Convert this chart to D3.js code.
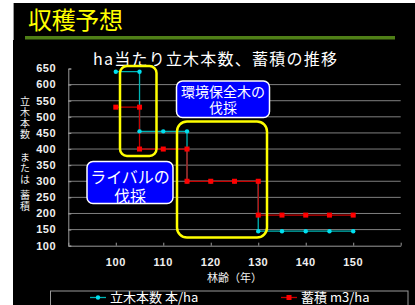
<!DOCTYPE html>
<html>
<head>
<meta charset="utf-8">
<script src="https://cdn.jsdelivr.net/npm/d3@7"></script>
<style>
    body { margin: 0; background: #ffffff; }
    text { font-family: "Noto Sans CJK JP", "Liberation Sans", sans-serif; }
</style>
</head>
<body>
<script>
// Data
// =================================
var ages = [100, 105, 105, 110, 115, 115, 120, 125, 130, 130, 135, 140, 145, 150];
var treeCount = [640, 640, 455, 455, 455, 300, 300, 300, 300, 145, 145, 145, 145, 145];
var volume = [530, 530, 400, 400, 400, 300, 300, 300, 300, 195, 195, 195, 195, 195];
var yTicks = [100, 150, 200, 250, 300, 350, 400, 450, 500, 550, 600, 650];
var xTicks = [90, 100, 110, 120, 130, 140, 150, 160];
var xLabels = [100, 110, 120, 130, 140, 150];
var seriesNames = ["立木本数 本/ha", "蓄積 m3/ha"];

// Set up chart
// =================================
var svgWidth = 415;
var svgHeight = 305;

var margin = {
    top: 68.5,
    right: 14.3,
    bottom: 59.3,
    left: 68.3
};

var chartWidth = svgWidth - margin.left - margin.right;
var chartHeight = svgHeight - margin.top - margin.bottom;

var svg = d3
    .select("body")
    .append("svg")
    .attr("width", svgWidth)
    .attr("height", svgHeight);

// slide background
svg.append("rect")
    .attr("x", 13)
    .attr("y", 3)
    .attr("width", svgWidth - 13)
    .attr("height", svgHeight - 3)
    .attr("fill", "#000000");

svg.append("line")
    .attr("x1", 13.5).attr("x2", 13.5)
    .attr("y1", 3).attr("y2", 40)
    .attr("stroke", "#9a9a9a");

// slide title + green bar
svg.append("text")
    .attr("x", 28)
    .attr("y", 29)
    .attr("fill", "#ffff00")
    .style("font-size", "24px")
    .attr("textLength", 95)
    .text("収穫予想");

svg.append("rect")
    .attr("x", 25)
    .attr("y", 36)
    .attr("width", 370)
    .attr("height", 3.5)
    .attr("fill", "#4f7f17");

// chart title
svg.append("text")
    .attr("x", 93)
    .attr("y", 65)
    .attr("fill", "#ffffff")
    .style("font-size", "16px")
    .attr("textLength", 244)
    .text("ha当たり立木本数、蓄積の推移");

var chartGroup = svg.append("g")
    .attr("transform", `translate(${margin.left}, ${margin.top})`);

// Scales
// =================================
var xLinearScale = d3.scaleLinear()
    .domain([90, 160])
    .range([0, chartWidth]);

var yLinearScale = d3.scaleLinear()
    .domain([100, 650])
    .range([chartHeight, 0]);

// gridlines
chartGroup.append("g")
    .selectAll("line")
    .data(yTicks.filter(d => d > 100 && d < 650))
    .enter()
    .append("line")
    .attr("x1", 0)
    .attr("x2", chartWidth)
    .attr("y1", d => yLinearScale(d))
    .attr("y2", d => yLinearScale(d))
    .attr("stroke", "#7f7f7f")
    .attr("stroke-width", 1);

// Axes
// =================================
var leftAxis = d3.axisRight(yLinearScale)
    .tickValues(yTicks)
    .tickSize(3)
    .tickFormat("");

chartGroup.append("g")
    .call(leftAxis)
    .call(g => g.selectAll("path, line").attr("stroke", "#9a9a9a"));

chartGroup.append("g")
    .selectAll("text")
    .data(yTicks)
    .enter()
    .append("text")
    .attr("x", -12)
    .attr("y", d => yLinearScale(d))
    .attr("dy", "0.35em")
    .attr("text-anchor", "end")
    .attr("fill", "#f0f0f0")
    .style("font-family", "Liberation Sans")
    .style("font-size", "11px")
    .style("font-weight", "bold")
    .style("letter-spacing", "0.6px")
    .text(d => d);

var bottomAxis = d3.axisTop(xLinearScale)
    .tickValues(xTicks)
    .tickSize(3)
    .tickSizeOuter(0)
    .tickFormat("");

chartGroup.append("g")
    .attr("transform", `translate(0, ${chartHeight})`)
    .call(bottomAxis)
    .call(g => g.selectAll("path, line").attr("stroke", "#9a9a9a"));

chartGroup.append("g")
    .selectAll("text")
    .data(xLabels)
    .enter()
    .append("text")
    .attr("x", d => xLinearScale(d))
    .attr("y", chartHeight + 20)
    .attr("text-anchor", "middle")
    .attr("fill", "#f0f0f0")
    .style("font-family", "Liberation Sans")
    .style("font-size", "11px")
    .style("font-weight", "bold")
    .style("letter-spacing", "0.6px")
    .text(d => d);

// axis titles
chartGroup.append("text")
    .attr("x", xLinearScale(125))
    .attr("y", chartHeight + 36)
    .attr("text-anchor", "middle")
    .attr("fill", "#f0f0f0")
    .style("font-size", "11px")
    .text("林齢（年）");

// vertical y title, three pieces
var yTitle = ["立木本数", "または", "蓄積"];
var yTitleTop = [96, 152, 190];
yTitle.forEach(function (t, i) {
    svg.append("text")
        .attr("x", 25)
        .attr("y", yTitleTop[i])
        .attr("fill", "#f0f0f0")
        .style("font-size", "10px")
        .style("writing-mode", "vertical-rl")
        .style("text-orientation", "upright")
        .style("letter-spacing", "1px")
        .text(t);
});

// Series
// =================================
var lineGen = d3.line()
    .x(d => xLinearScale(d[0]))
    .y(d => yLinearScale(d[1]));

var countData = ages.map((a, i) => [a, treeCount[i]]);
var volumeData = ages.map((a, i) => [a, volume[i]]);

chartGroup.append("path")
    .datum(countData)
    .attr("d", lineGen)
    .attr("fill", "none")
    .attr("stroke", "#00b4b4")
    .attr("stroke-width", 1.3);

chartGroup.append("path")
    .datum(volumeData)
    .attr("d", lineGen)
    .attr("fill", "none")
    .attr("stroke", "#c80000")
    .attr("stroke-width", 1.3);

chartGroup.selectAll(".dot")
    .data(countData)
    .enter()
    .append("circle")
    .attr("class", "dot")
    .attr("cx", d => xLinearScale(d[0]))
    .attr("cy", d => yLinearScale(d[1]))
    .attr("r", 2.2)
    .attr("fill", "#00e0f0");

chartGroup.selectAll(".sq")
    .data(volumeData)
    .enter()
    .append("rect")
    .attr("class", "sq")
    .attr("x", d => xLinearScale(d[0]) - 2.5)
    .attr("y", d => yLinearScale(d[1]) - 2.5)
    .attr("width", 5)
    .attr("height", 5)
    .attr("fill", "#ff0000");

// Annotations
// =================================
// yellow highlight boxes
svg.append("rect")
    .attr("x", 120).attr("y", 66)
    .attr("width", 36.5).attr("height", 90)
    .attr("rx", 7)
    .attr("fill", "none")
    .attr("stroke", "#ffff00")
    .attr("stroke-width", 2.5);

svg.append("rect")
    .attr("x", 177).attr("y", 121.5)
    .attr("width", 90).attr("height", 116)
    .attr("rx", 10)
    .attr("fill", "none")
    .attr("stroke", "#ffff00")
    .attr("stroke-width", 2.5);

// blue callouts (two lines in one text element)
function callout(x, y, w, h, lines, size, lineY) {
    svg.append("rect")
        .attr("x", x).attr("y", y)
        .attr("width", w).attr("height", h)
        .attr("rx", 6)
        .attr("fill", "#0000ff")
        .attr("stroke", "#ffffff")
        .attr("stroke-width", 1.5);
    var txt = svg.append("text")
        .attr("text-anchor", "middle")
        .attr("fill", "#ffffff")
        .style("font-size", size + "px");
    lines.forEach(function (t, i) {
        txt.append("tspan")
            .attr("x", x + w / 2)
            .attr("y", lineY[i])
            .attr("dy", "0.35em")
            .text(t);
    });
}

callout(176.5, 81, 93, 36.5, ["環境保全木の", "伐採"], 14, [92, 108.5]);
callout(87, 161.5, 86, 42, ["ライバルの", "伐採"], 16, [177, 196.5]);

// Legend
// =================================
svg.append("rect")
    .attr("x", 50.5).attr("y", 291)
    .attr("width", 357.5).attr("height", 20)
    .attr("fill", "none")
    .attr("stroke", "#9a9a9a")
    .attr("stroke-width", 1);

var legendX = [90, 281];
var legendColors = ["#00b4b4", "#c80000"];

seriesNames.forEach(function (name, i) {
    var lg = svg.append("g")
        .attr("transform", `translate(${legendX[i]}, 297.5)`);
    lg.append("line")
        .attr("x1", 0).attr("x2", 16)
        .attr("stroke", legendColors[i])
        .attr("stroke-width", 1.3);
    if (i === 0) {
        lg.append("circle").attr("cx", 8).attr("r", 2.2).attr("fill", "#00e0f0");
    } else {
        lg.append("rect").attr("x", 5.5).attr("y", -2.5)
            .attr("width", 5).attr("height", 5).attr("fill", "#ff0000");
    }
    lg.append("text")
        .attr("x", 20)
        .attr("dy", "0.38em")
        .attr("fill", "#ffffff")
        .style("font-size", "13px")
        .text(name);
});
</script>
</body>
</html>
